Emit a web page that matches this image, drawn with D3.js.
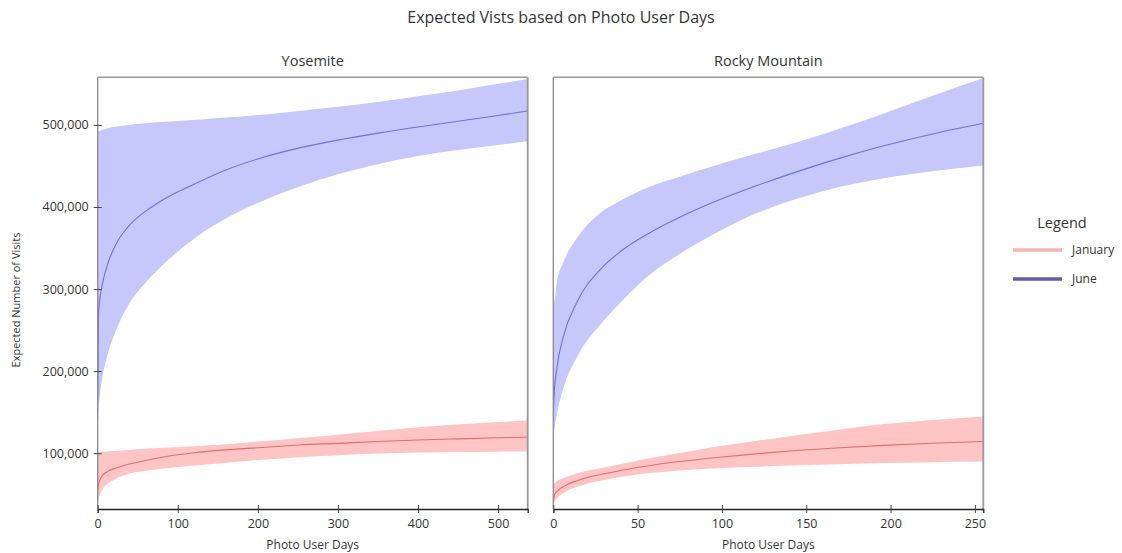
<!DOCTYPE html>
<html><head><meta charset="utf-8">
<script src="https://cdn.jsdelivr.net/npm/d3@7"></script>
<style>body{margin:0;background:#fff;} text{font-family:"Open Sans",sans-serif;fill:#333;}</style>
</head><body><svg id="c" width="1122" height="553"></svg>
<script>
// ---- data ----
const title = "Expected Vists based on Photo User Days";
const panels = ["Yosemite", "Rocky Mountain"];
const seriesNames = ["January", "June"];
const yTicks = [100000, 200000, 300000, 400000, 500000];
const yosTicks = [0, 100, 200, 300, 400, 500];
const rockyTicks = [0, 50, 100, 150, 200, 250];

const yosX        = [0, 1, 3, 6, 13, 23, 38, 60, 80, 121, 160, 205, 252, 300, 350, 400, 450, 500, 537];
const yosJuneMean = [165000, 270000, 290000, 307000, 332000, 355000, 376000, 395000, 408000, 428000, 445000, 460000, 472000, 481500, 490000, 497500, 504500, 511500, 517000];
const yosJuneHigh = [491000, 492000, 493000, 494000, 496000, 498000, 500000, 502000, 503500, 506000, 509000, 512500, 517000, 522000, 528000, 535000, 542000, 550000, 556000];
const yosJuneLow  = [130000, 150000, 172000, 193000, 222000, 250000, 280000, 308000, 328000, 362000, 386000, 407000, 425000, 440000, 452000, 462000, 469500, 475500, 480000];
const yosJanMean  = [55000, 62000, 68000, 73000, 78000, 82000, 86500, 91000, 95000, 100500, 104000, 107000, 110000, 112000, 114200, 116000, 117500, 118800, 119500];
const yosJanHigh  = [100000, 101000, 101500, 102000, 102500, 103000, 104000, 105500, 106500, 108500, 111000, 114500, 118500, 122500, 127000, 131500, 135000, 138000, 139700];
const yosJanLow   = [35000, 43000, 50000, 56000, 63000, 69000, 74500, 78500, 81000, 85000, 88500, 92000, 95000, 97500, 99500, 100800, 101500, 101900, 102000];

const rockyX        = [0, 0.5, 2.2, 6.1, 14, 28, 40, 57.5, 75, 97, 120, 146, 170, 196, 225, 255];
const rockyJuneMean = [150000, 172000, 205000, 243000, 284000, 324000, 346000, 369000, 387500, 407500, 425500, 444000, 459500, 474500, 489000, 502000];
const rockyJuneHigh = [490000, 285000, 309000, 333500, 362000, 393000, 408000, 425000, 436700, 451000, 464700, 479700, 495500, 514000, 535600, 557000];
const rockyJuneLow  = [114000, 126000, 148000, 180000, 217000, 257000, 284000, 318000, 343000, 369000, 392000, 411000, 424500, 435000, 443500, 450400];
const rockyJanMean  = [42000, 48000, 53500, 59500, 66500, 74000, 79000, 85000, 89800, 94800, 99200, 103500, 106700, 109500, 112200, 114300];
const rockyJanHigh  = [62000, 63000, 66000, 69700, 75700, 81800, 86500, 94000, 100100, 108100, 114800, 122400, 129000, 135500, 140500, 144700];
const rockyJanLow   = [35000, 39000, 45000, 51500, 59000, 66500, 71000, 75800, 79000, 81600, 83500, 85200, 86600, 87900, 89000, 89900];

// ---- styles ----
const bandColor = {January: "#ffc5c5", June: "#c6c7fa"};
const lineColor = {January: "#e36d6d", June: "#6f70e0"};
const legendColor = {January: "#f6b4b4", June: "#5d5ca6"};

const svg = d3.select("#c");
const y = d3.scaleLinear().domain([32000, 558000]).range([509, 77.3]);

svg.append("text").attr("x", 561).attr("y", 23).attr("text-anchor", "middle")
  .style("font-size", "16px").text(title);
svg.append("text").attr("transform", "translate(20,300) rotate(-90)").attr("text-anchor", "middle")
  .style("font-size", "11px").text("Expected Number of Visits");

function panel(name, xs, ticks, xMax, x0, x1, data, showY) {
  const x = d3.scaleLinear().domain([0, xMax]).range([x0, x1]);
  const g = svg.append("g");
  const clipId = "clip" + name.replace(/\s/g, "");
  g.append("clipPath").attr("id", clipId).append("rect")
    .attr("x", x0).attr("y", 77.3).attr("width", x1 - x0).attr("height", 509 - 77.3);
  const pg = g.append("g").attr("clip-path", `url(#${clipId})`);
  data.forEach(s => {
    const pts = xs.map((v, i) => ({x: v, m: s.mean[i], lo: s.low[i], hi: s.high[i]}));
    pg.append("path").datum(pts)
      .attr("d", d3.area().x(d => x(d.x)).y0(d => y(d.lo)).y1(d => y(d.hi)).curve(d3.curveMonotoneX))
      .attr("fill", bandColor[s.name]);
    pg.append("path").datum(pts)
      .attr("d", d3.line().x(d => x(d.x)).y(d => y(d.m)).curve(d3.curveMonotoneX))
      .attr("fill", "none").attr("stroke", lineColor[s.name]).attr("stroke-width", 1.1);
  });
  // frame
  g.append("line").attr("x1", x0).attr("x2", x1).attr("y1", 77.3).attr("y2", 77.3).attr("stroke", "#999").attr("stroke-width", 1.5);
  g.append("line").attr("x1", x1).attr("x2", x1).attr("y1", 77.3).attr("y2", 509).attr("stroke", "#999").attr("stroke-width", 1.8);
  g.append("line").attr("x1", x0).attr("x2", x0).attr("y1", 77.3).attr("y2", 509).attr("stroke", "#888").attr("stroke-width", 1.3);
  // x axis
  const xa = g.append("g").attr("transform", "translate(0,509)")
    .call(d3.axisBottom(x).tickValues(ticks).tickSize(4).tickPadding(6).tickFormat(d3.format("d")));
  xa.select(".domain").attr("stroke", "#222").attr("stroke-width", 1.3);
  xa.selectAll(".tick line").attr("y1", -4).attr("y2", 4).attr("stroke", "#444");
  xa.selectAll(".tick text").style("font-size", "12.5px").attr("fill", "#333").style("font-family", "'Open Sans',sans-serif");
  if (showY) {
    const ya = g.append("g").attr("transform", `translate(${x0},0)`)
      .call(d3.axisLeft(y).tickValues(yTicks).tickSize(4).tickPadding(5).tickFormat(d3.format(",")));
    ya.select(".domain").remove();
    ya.selectAll(".tick line").attr("x1", -4).attr("x2", 4).attr("stroke", "#444");
    ya.selectAll(".tick text").style("font-size", "12.5px").attr("fill", "#333").style("font-family", "'Open Sans',sans-serif");
  }
  g.append("text").attr("x", (x0 + x1) / 2).attr("y", 66).attr("text-anchor", "middle")
    .style("font-size", "14.5px").text(name);
  g.append("text").attr("x", (x0 + x1) / 2).attr("y", 549).attr("text-anchor", "middle")
    .style("font-size", "12px").text("Photo User Days");
}

panel(panels[0], yosX, yosTicks, 537, 97.7, 527.7, [
  {name: "January", mean: yosJanMean, low: yosJanLow, high: yosJanHigh},
  {name: "June", mean: yosJuneMean, low: yosJuneLow, high: yosJuneHigh}
], true);
panel(panels[1], rockyX, rockyTicks, 255, 553.3, 983.3, [
  {name: "January", mean: rockyJanMean, low: rockyJanLow, high: rockyJanHigh},
  {name: "June", mean: rockyJuneMean, low: rockyJuneLow, high: rockyJuneHigh}
], false);

// legend
const lg = svg.append("g");
lg.append("text").attr("x", 1062).attr("y", 228).attr("text-anchor", "middle").style("font-size", "14.5px").text("Legend");
seriesNames.forEach((n, i) => {
  const yy = 250 + i * 29;
  lg.append("line").attr("x1", 1013).attr("x2", 1062).attr("y1", yy).attr("y2", yy)
    .attr("stroke", legendColor[n]).attr("stroke-width", 3.5);
  lg.append("text").attr("x", 1072).attr("y", yy + 4).style("font-size", "12px").text(n);
});
</script></body></html>
